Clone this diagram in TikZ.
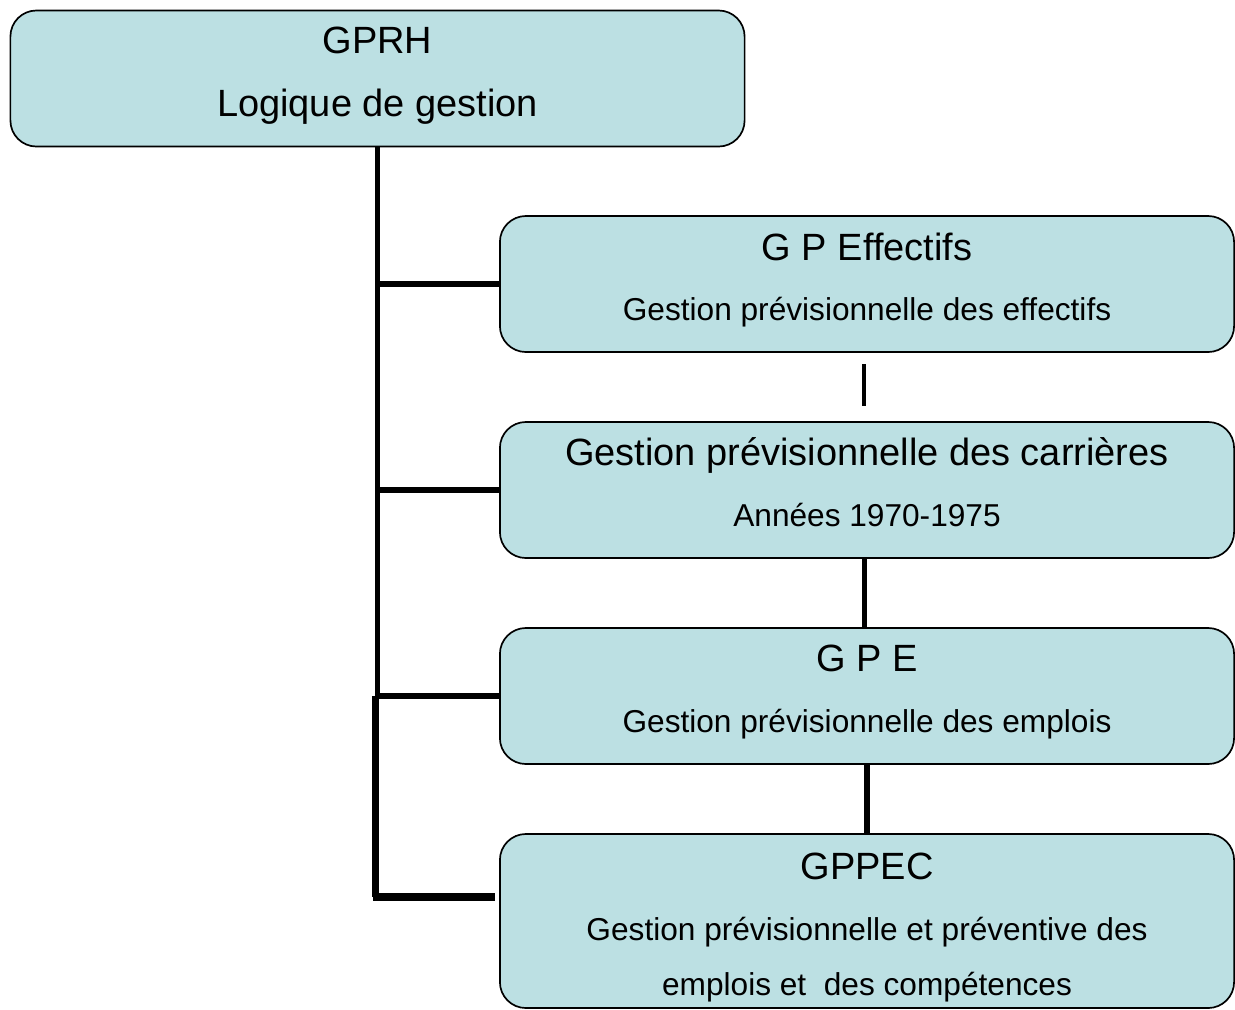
\documentclass[tikz,border=0pt]{standalone}
\usepackage{fontspec}
\setmainfont{Liberation Sans}
\usepackage{xcolor}
\usepackage{tikz}

\definecolor{boxblue}{RGB}{188,224,227}
\newcommand{\bigtxt}{\fontsize{27}{45}\selectfont}
\newcommand{\smalltxt}{\fontsize{22.5}{45}\selectfont}

\tikzset{
  box/.style={draw, line width=1.2pt, rounded corners=0.65cm, fill=boxblue,
    minimum width=18.35cm, minimum height=3.4cm, inner sep=0pt,
    align=center, font=\smalltxt},
  link/.style={line width=3.6pt},
}

\begin{document}
\begin{tikzpicture}[x=0.025cm, y=-0.025cm]
                \useasboundingbox (0,0) rectangle (1235,1009);
                \node [box, text depth=9.2pt] (gprh) at (377.5,78.5) {{\bigtxt GPRH}\\{\bigtxt Logique de gestion}};
                \node [box, text depth=10.4pt] (eff) at (867,284) {{\bigtxt G P Effectifs}\\[-2pt]Gestion prévisionnelle des effectifs};
                \node [box, text depth=11.5pt] (car) at (867,490) {{\bigtxt Gestion prévisionnelle des carrières}\\[-1.5pt]Années 1970-1975};
                \node [box, text depth=10.4pt] (gpe) at (867,696) {{\bigtxt G P E}\\[-2pt]Gestion prévisionnelle des emplois};
                \node [box, minimum height=4.35cm, text height=110pt] (gppec) at (867,921) {{\bigtxt GPPEC}\\[-2pt]Gestion prévisionnelle et préventive des\\[-6pt]emplois et\ \ des compétences};
                \coordinate (corner) at (377.5,897);
                % trunk and branches
                \draw [link] (gprh.south) -- (gprh.south |- gpe.west);
                \draw [link, line width=5.2pt] ([xshift=-1.5pt]gprh.south |- gpe.west) -- ([xshift=-1.5pt]corner);
                \draw [link] (gprh.south |- eff.west) -- (eff.west);
                \draw [link] (gprh.south |- car.west) -- (car.west);
                \draw [link] (gprh.south |- gpe.west) -- (gpe.west);
                \draw [link, line width=5.6pt] ([xshift=-3pt]corner) -- ([xshift=-3pt]corner -| gppec.west);
                % chain between the boxes
                \draw [link, line width=3pt, shorten >=11pt, shorten <=8pt] ([xshift=-2pt]eff.south) -- ([xshift=-2pt]car.north);
                \draw [link] ([xshift=-2pt]car.south) -- ([xshift=-2pt]gpe.north);
                \draw [link, line width=4pt] (gpe.south) -- (gppec.north);
            \end{tikzpicture}
\end{document}
